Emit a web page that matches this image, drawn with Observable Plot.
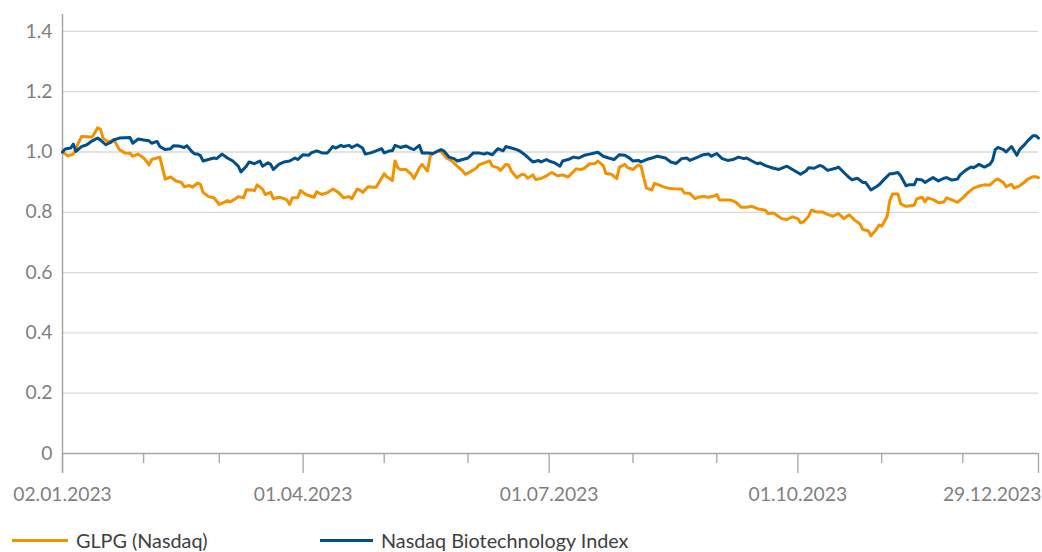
<!DOCTYPE html>
<html>
<head>
<meta charset="utf-8">
<script src="https://cdn.jsdelivr.net/npm/d3@7"></script>
<script src="https://cdn.jsdelivr.net/npm/@observablehq/plot@0.6"></script>
<style>
  html, body { margin: 0; padding: 0; background: #ffffff; }
  body { width: 1042px; height: 552px; position: relative; overflow: hidden; font-family: Lato, "Open Sans", sans-serif; }
  #chart { position: absolute; left: 0; top: 0; }
  .item { position: absolute; top: 527px; height: 26px; line-height: 26px; font-size: 19.8px; color: #404040; white-space: nowrap; }
  .swatch { position: absolute; height: 3px; top: 539px; }
</style>
</head>
<body>
<div id="chart"></div>
<div class="swatch" id="sw0" style="left:12px;width:56px;"></div>
<div class="item" id="lb0" style="left:76px;"></div>
<div class="swatch" id="sw1" style="left:320px;width:53px;"></div>
<div class="item" id="lb1" style="left:381px;"></div>
<script>
// ---- Data ----
const seriesNames = ["GLPG (Nasdaq)", "Nasdaq Biotechnology Index"];
const seriesColors = ["#f39200", "#004f8b"];

const glpgDates = ["01-02","01-04","01-06","01-09","01-13","01-15","01-16","01-17","01-19","01-21","01-23","01-25","01-27","01-28","01-30",
"02-01","02-02","02-03","02-04","02-07","02-09","02-11","02-13","02-15","02-16","02-18","02-19","02-21","02-22","02-23","02-25","02-27",
"03-01","03-03","03-04","03-05","03-07","03-08","03-10","03-11","03-13","03-14","03-15","03-17","03-18","03-20","03-21","03-23","03-24","03-26","03-27","03-28","03-30","03-31",
"04-02","04-05","04-06","04-08","04-10","04-12","04-14","04-16","04-18","04-19","04-21","04-22","04-23","04-25","04-27","04-28",
"05-01","05-02","05-03","05-04","05-05","05-06","05-07","05-09","05-11","05-12","05-14","05-15","05-17","05-18","05-19","05-21","05-22","05-24","05-26","05-28","05-30","05-31",
"06-02","06-04","06-05","06-07","06-09","06-10","06-12","06-13","06-15","06-16","06-17","06-19","06-21","06-22","06-23","06-25","06-26","06-28","06-30",
"07-02","07-04","07-06","07-08","07-11","07-13","07-14","07-16","07-18","07-19","07-21","07-22","07-24","07-26","07-27","07-29","07-30",
"08-01","08-03","08-04","08-05","08-06","08-08","08-09","08-11","08-12","08-14","08-16","08-19","08-20","08-22","08-24","08-25","08-27","08-29","08-31",
"09-01","09-02","09-06","09-08","09-10","09-12","09-14","09-16","09-19","09-20","09-22","09-24","09-25","09-27","09-29",
"10-01","10-02","10-03","10-05","10-06","10-08","10-10","10-12","10-14","10-16","10-18","10-20","10-22","10-24","10-25","10-27","10-28","10-30","10-31",
"11-01","11-03","11-04","11-05","11-07","11-08","11-10","11-11","11-13","11-14","11-16","11-17","11-18","11-20","11-22","11-24","11-25","11-27","11-29",
"12-01","12-03","12-05","12-07","12-09","12-11","12-13","12-14","12-16","12-17","12-19","12-20","12-22","12-24","12-25","12-27","12-28","12-29"];
const glpgValues = [1.000,0.987,0.993,1.051,1.050,1.080,1.076,1.046,1.033,1.041,1.008,0.997,0.996,0.986,0.993,
0.980,0.970,0.957,0.975,0.983,0.910,0.917,0.904,0.899,0.885,0.889,0.883,0.897,0.893,0.866,0.852,0.848,
0.826,0.834,0.839,0.834,0.845,0.852,0.848,0.875,0.874,0.872,0.891,0.877,0.859,0.866,0.845,0.850,0.848,0.841,0.826,0.848,0.848,0.872,
0.859,0.850,0.868,0.859,0.865,0.877,0.866,0.848,0.852,0.845,0.877,0.874,0.866,0.885,0.883,0.883,
0.928,0.917,0.912,0.905,0.970,0.948,0.942,0.942,0.926,0.912,0.948,0.959,0.937,0.986,0.995,1.004,1.002,0.980,0.970,0.953,0.937,0.926,
0.935,0.946,0.957,0.964,0.970,0.953,0.948,0.939,0.959,0.957,0.937,0.915,0.926,0.924,0.913,0.924,0.909,0.912,0.921,
0.932,0.921,0.924,0.917,0.944,0.942,0.946,0.961,0.962,0.970,0.955,0.929,0.926,0.912,0.950,0.959,0.948,
0.942,0.957,0.953,0.915,0.880,0.874,0.896,0.889,0.885,0.880,0.878,0.877,0.864,0.863,0.845,0.850,0.852,0.850,0.854,
0.859,0.841,0.841,0.834,0.817,0.817,0.820,0.812,0.807,0.796,0.798,0.785,0.779,0.776,0.785,
0.779,0.765,0.768,0.787,0.807,0.801,0.801,0.793,0.787,0.796,0.779,0.792,0.774,0.761,0.743,0.739,0.722,0.743,0.758,
0.754,0.785,0.839,0.861,0.861,0.828,0.820,0.821,0.823,0.845,0.850,0.834,0.848,0.842,0.832,0.834,0.848,0.841,0.833,
0.848,0.866,0.880,0.887,0.891,0.890,0.907,0.910,0.899,0.885,0.893,0.880,0.888,0.901,0.910,0.918,0.918,0.915];

const nbiDates = ["01-02","01-03","01-05","01-06","01-07","01-09","01-11","01-13","01-15","01-16","01-18","01-20","01-21","01-23","01-27","01-28","01-30",
"02-01","02-03","02-04","02-06","02-07","02-09","02-11","02-12","02-14","02-16","02-17","02-19","02-20","02-21","02-22","02-23","02-25","02-27","02-28",
"03-02","03-04","03-06","03-08","03-09","03-11","03-12","03-14","03-16","03-17","03-19","03-20","03-21","03-23","03-25","03-27","03-29","03-30",
"04-01","04-03","04-04","04-06","04-08","04-10","04-12","04-13","04-15","04-16","04-18","04-19","04-21","04-23","04-24","04-26","04-28","04-30",
"05-01","05-03","05-04","05-05","05-07","05-09","05-11","05-12","05-14","05-15","05-17","05-19","05-22","05-23","05-25","05-27","05-28","05-30",
"06-01","06-03","06-05","06-07","06-08","06-10","06-12","06-14","06-15","06-17","06-19","06-20","06-22","06-24","06-25","06-27","06-28","06-30",
"07-01","07-03","07-05","07-06","07-08","07-10","07-12","07-14","07-16","07-17","07-19","07-21","07-23","07-25","07-27","07-29","07-31",
"08-01","08-03","08-04","08-06","08-08","08-10","08-13","08-15","08-17","08-19","08-21","08-22","08-25","08-27","08-29","08-30",
"09-01","09-03","09-05","09-07","09-09","09-11","09-12","09-14","09-16","09-17","09-19","09-22","09-24","09-26","09-27","09-29",
"10-02","10-04","10-05","10-07","10-09","10-10","10-12","10-15","10-16","10-18","10-20","10-21","10-23","10-25","10-26","10-28","10-30","10-31",
"11-02","11-04","11-05","11-07","11-08","11-10","11-11","11-13","11-14","11-16","11-17","11-19","11-20","11-22","11-24","11-25","11-27","11-29","11-30",
"12-02","12-04","12-05","12-07","12-09","12-11","12-12","12-13","12-14","12-16","12-17","12-19","12-21","12-22","12-24","12-25","12-27","12-28","12-29"];
const nbiValues = [1.000,1.010,1.013,1.026,1.002,1.018,1.024,1.037,1.046,1.040,1.024,1.033,1.040,1.046,1.048,1.029,1.043,
1.040,1.037,1.029,1.035,1.018,1.008,1.011,1.021,1.020,1.015,1.021,1.000,0.993,0.993,0.988,0.970,0.975,0.980,0.978,
0.993,0.980,0.970,0.953,0.934,0.953,0.967,0.961,0.970,0.953,0.964,0.959,0.942,0.959,0.967,0.970,0.980,0.975,
0.991,0.989,0.997,1.004,0.997,0.997,1.018,1.013,1.022,1.018,1.022,1.015,1.024,1.013,0.993,0.997,1.004,1.011,
0.997,1.004,1.004,1.022,1.015,1.020,1.011,1.008,1.022,0.997,0.997,0.995,1.008,1.004,0.983,0.977,0.970,0.975,
0.980,0.997,0.997,0.993,0.997,0.991,1.011,1.004,1.018,1.013,1.008,1.004,0.991,0.975,0.967,0.972,0.967,0.975,
0.970,0.964,0.953,0.970,0.975,0.983,0.980,0.989,0.993,0.995,0.999,0.986,0.980,0.975,0.991,0.989,0.978,
0.970,0.972,0.967,0.975,0.980,0.986,0.980,0.967,0.962,0.978,0.980,0.972,0.983,0.991,0.993,0.986,
0.995,0.978,0.972,0.975,0.983,0.978,0.980,0.970,0.961,0.964,0.955,0.946,0.942,0.950,0.953,0.942,
0.926,0.937,0.948,0.946,0.955,0.953,0.939,0.946,0.950,0.932,0.915,0.908,0.913,0.899,0.899,0.874,0.885,0.891,
0.910,0.928,0.928,0.932,0.921,0.888,0.891,0.891,0.910,0.907,0.899,0.910,0.915,0.904,0.913,0.915,0.907,0.910,0.924,
0.939,0.950,0.948,0.959,0.950,0.959,0.972,1.008,1.015,1.008,1.000,1.018,0.989,1.008,1.026,1.037,1.054,1.054,1.046];

// Axis definitions
const yTicks = [0, 0.2, 0.4, 0.6, 0.8, 1.0, 1.2, 1.4];
const xStart = "01-02", xEnd = "12-29";
const minorTickDates = ["02-01","03-01","05-01","06-01","08-01","09-01","11-01","12-01"];
const majorTickDates = ["01-02","04-01","07-01","10-01","12-29"];
const xTickLabels = ["02.01.2023","01.04.2023","01.07.2023","01.10.2023","29.12.2023"];

// ---- Build ----
const parse = s => new Date(`2023-${s}T00:00:00Z`);
const glpg = glpgDates.map((d, i) => ({date: parse(d), value: glpgValues[i]}));
const nbi = nbiDates.map((d, i) => ({date: parse(d), value: nbiValues[i]}));
const majors = majorTickDates.map((d, i) => ({date: parse(d), label: xTickLabels[i]}));
const axisColor = "#a6a6a6";
const labelColor = "#7f7f7f";
const fmtY = d => d === 0 ? "0" : d.toFixed(1);
const tickFont = 19.3;

const chart = Plot.plot({
  width: 1042,
  height: 518,
  marginTop: 14,
  marginBottom: 65,
  marginLeft: 62,
  marginRight: 4,
  x: {type: "utc", domain: [parse(xStart), parse(xEnd)], axis: null},
  y: {domain: [0, 1.456], axis: null},
  style: {fontFamily: "Lato, 'Open Sans', sans-serif", fontSize: "19px", color: labelColor, background: "#ffffff", overflow: "visible"},
  marks: [
    Plot.ruleY(yTicks.filter(d => d > 0), {stroke: "#d9d9d9", strokeWidth: 1.3}),
    Plot.ruleY([0], {stroke: axisColor, strokeWidth: 1.5}),
    Plot.ruleX(minorTickDates.map(parse), {y1: 0, y2: -0.033, stroke: axisColor, strokeWidth: 1.3}),
    Plot.ruleX(majors, {x: "date", y1: 0, y2: -0.066, stroke: axisColor, strokeWidth: 1.3}),
    Plot.ruleX([parse(xStart)], {y1: -0.066, y2: 1.456, stroke: axisColor, strokeWidth: 1.5}),
    Plot.text(yTicks, {x: parse(xStart), y: d => d, text: fmtY, textAnchor: "end", dx: -10, fill: labelColor, fontSize: tickFont}),
    Plot.text(majors.slice(0, 4), {x: "date", y: -0.137, text: "label", textAnchor: "middle", fill: labelColor, fontSize: tickFont}),
    Plot.text(majors.slice(4), {x: "date", y: -0.137, text: "label", textAnchor: "end", dx: 3, fill: labelColor, fontSize: tickFont}),
    Plot.line(glpg, {x: "date", y: "value", stroke: seriesColors[0], strokeWidth: 3, strokeLinejoin: "round"}),
    Plot.line(nbi, {x: "date", y: "value", stroke: seriesColors[1], strokeWidth: 3, strokeLinejoin: "round"})
  ]
});
document.getElementById("chart").appendChild(chart);

// Legend
document.getElementById("sw0").style.background = seriesColors[0];
document.getElementById("sw1").style.background = seriesColors[1];
document.getElementById("lb0").textContent = seriesNames[0];
document.getElementById("lb1").textContent = seriesNames[1];
</script>
</body>
</html>
